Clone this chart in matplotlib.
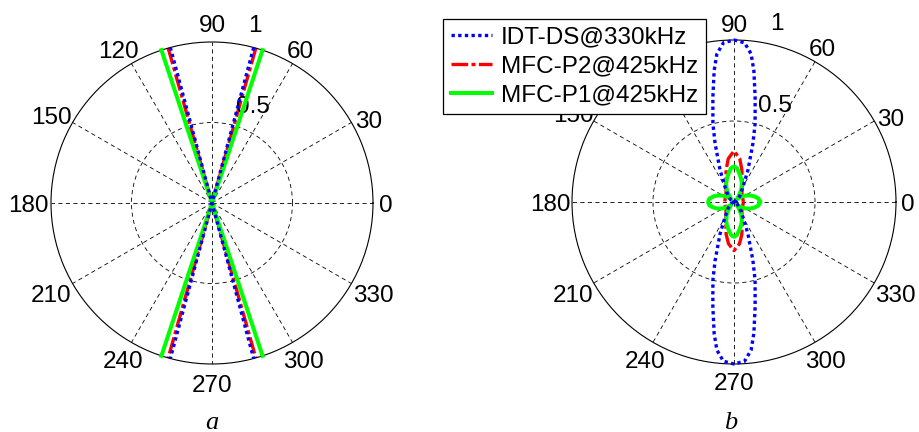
import numpy as np
import matplotlib
matplotlib.use('Agg')
import matplotlib.pyplot as plt
from matplotlib import transforms
from matplotlib.lines import Line2D

plt.rcParams['font.family'] = ['Liberation Sans', 'DejaVu Sans']

# ---------------- data ----------------
# Panel a: each pattern is a pair of straight rays through the origin (degrees)
idt_rays_a = [(75.0, 255.0), (105.0, 285.0)]
p2_rays_a = [(74.2, 254.2), (105.8, 285.8)]
p1_rays_a = [(71.7, 251.7), (108.3, 288.3)]

# Panel b: normalised directivity patterns (theta in degrees, amplitude)
idt_theta_b = [0, 30, 45, 59.5, 66.4, 72.1, 74.9, 78.6, 81.4, 83.4, 86.2, 90,
               93.8, 96.6, 98.6, 101.4, 105.1, 107.9, 113.6, 120.5, 135, 150, 180,
               210, 225, 239.5, 246.4, 252.1, 254.9, 258.6, 261.4, 263.4, 266.2, 270,
               273.8, 276.6, 278.6, 281.4, 285.1, 287.9, 293.6, 300.5, 315, 330, 360]
idt_r_b = [0.0, 0.02, 0.05, 0.11, 0.215, 0.38, 0.50, 0.66, 0.82, 0.92, 0.985, 1.0,
           0.985, 0.92, 0.82, 0.66, 0.50, 0.38, 0.215, 0.11, 0.05, 0.02, 0.0,
           0.02, 0.05, 0.11, 0.215, 0.38, 0.50, 0.66, 0.82, 0.92, 0.985, 1.0,
           0.985, 0.92, 0.82, 0.66, 0.50, 0.38, 0.215, 0.11, 0.05, 0.02, 0.0]

p2_theta_b = [0, 20, 40, 55, 66, 76.3, 82.5, 90, 97.5, 103.7, 114, 125, 140, 160,
              180, 200, 220, 235, 246, 256.3, 262.5, 270, 277.5, 283.7, 294, 305,
              320, 340, 360]
p2_r_b = [0.058, 0.058, 0.065, 0.085, 0.125, 0.205, 0.27, 0.315, 0.27, 0.205, 0.125,
          0.085, 0.065, 0.058, 0.058, 0.058, 0.065, 0.085, 0.125, 0.205, 0.26, 0.30,
          0.26, 0.205, 0.125, 0.085, 0.065, 0.058, 0.058]

p1_theta_b = [0, 8, 15.5, 23, 30, 37, 45, 53, 60, 67, 73, 79, 85, 90, 95, 101, 107,
              113, 120, 127, 135, 143, 150, 157, 164.5, 172, 180, 188, 195.5, 203,
              210, 217, 225, 233, 240, 247, 253, 259, 265, 270, 275, 281, 287, 293,
              300, 307, 315, 323, 330, 337, 344.5, 352, 360]
p1_r_b = [0.16, 0.153, 0.13, 0.105, 0.078, 0.05, 0.025, 0.05, 0.09, 0.125, 0.15,
          0.178, 0.21, 0.22, 0.21, 0.178, 0.15, 0.125, 0.09, 0.05, 0.025, 0.05,
          0.078, 0.105, 0.13, 0.153, 0.16, 0.153, 0.13, 0.105, 0.078, 0.05, 0.025,
          0.05, 0.09, 0.125, 0.15, 0.175, 0.205, 0.215, 0.205, 0.175, 0.15, 0.125,
          0.09, 0.05, 0.025, 0.05, 0.078, 0.105, 0.13, 0.153, 0.16]

angle_labels = list(range(0, 360, 30))
radial_labels = ['0.5', '1']
legend_labels = ['IDT-DS@330kHz', 'MFC-P2@425kHz', 'MFC-P1@425kHz']
panel_labels = ['a', 'b']

# ---------------- layout (label centres in pixels from the polar centre) ----------------
angle_label_px = {0: (174, -1), 30: (157, 84), 60: (88, 154), 90: (0, 179),
                  120: (-94, 153), 150: (-161, 88), 180: (-184, -1), 210: (-161, -91),
                  240: (-88.5, -157), 270: (0, -180), 300: (91, -157), 330: (161, -91)}
radial_label_px = {'0.5': (41, 98.5), '1': (42.5, 180)}

# ---------------- styles ----------------
FS = 17.5
blue_kw = dict(color=(0, 0, 1), lw=2.4, ls=(0, (1.0, 1.0)), dash_capstyle='butt', zorder=4)
red_kw = dict(color=(1, 0, 0), lw=2.4, ls=(0, (5.0, 1.0, 1.2, 1.0)), dash_capstyle='butt', zorder=2)
green_kw = dict(color=(0, 1, 0), lw=2.9, ls='-', zorder=3)

W, H = 919, 432
fig = plt.figure(figsize=(W / 100, H / 100), dpi=100)
VC = 2.5  # anchor below visual centre of digits (px)


def place(ax, s, dx, dy):
    tr = ax.transAxes + transforms.ScaledTranslation(dx / 100, (dy - VC) / 100,
                                                     fig.dpi_scale_trans)
    ax.text(0.5, 0.5, s, ha='center', va='center', fontsize=FS, transform=tr,
            clip_on=False)


def make_polar(cx, cy, rad):
    ax = fig.add_axes([(cx - rad) / W, (H - cy - rad) / H, 2 * rad / W, 2 * rad / H],
                      projection='polar')
    ax.set_ylim(0, 1)
    ax.set_xticks(np.deg2rad(angle_labels))
    ax.set_xticklabels([])
    ax.set_yticks([0.5])
    ax.set_yticklabels([])
    ax.tick_params(length=0)
    ax.grid(True, color='k', lw=0.6, ls=(0, (5, 4)))
    ax.spines['polar'].set_linewidth(0.8)
    ax.spines['polar'].set_color('k')
    for a in angle_labels:
        dx, dy = angle_label_px[a]
        place(ax, str(a), dx, dy)
    for s in radial_labels:
        dx, dy = radial_label_px[s]
        place(ax, s, dx, dy)
    return ax


# Panel a
ax_a = make_polar(212, 203, 161)
for rays, kw in ((p2_rays_a, red_kw), (p1_rays_a, green_kw), (idt_rays_a, blue_kw)):
    for t1, t2 in rays:
        ax_a.plot(np.deg2rad([t1, t1, t2, t2]), [1, 0, 0, 1], clip_on=False, **kw)

# Panel b
ax_b = make_polar(734, 202, 162)
ax_b.plot(np.deg2rad(p2_theta_b), p2_r_b, clip_on=False, **red_kw)
ax_b.plot(np.deg2rad(p1_theta_b), p1_r_b, clip_on=False, **green_kw)
ax_b.plot(np.deg2rad(idt_theta_b), idt_r_b, clip_on=False, **blue_kw)

handles = [Line2D([], [], **blue_kw), Line2D([], [], **red_kw), Line2D([], [], **green_kw)]
leg = ax_b.legend(handles, legend_labels, loc='upper left',
                  bbox_to_anchor=(443 / W, 1 - 19 / H), bbox_transform=fig.transFigure,
                  borderaxespad=0, fancybox=False, edgecolor='k', framealpha=1,
                  handlelength=1.71, handletextpad=0.35, borderpad=0.32,
                  labelspacing=0.28, fontsize=FS)
leg.get_frame().set_linewidth(0.9)
leg.set_zorder(10)

# panel captions
for lab, x in zip(panel_labels, (212, 731)):
    fig.text(x / W, 1 - 429 / H, lab, ha='center', va='baseline', fontsize=19,
             family=['Liberation Serif', 'DejaVu Serif'], style='italic')

fig.savefig('out.png', dpi=100)
